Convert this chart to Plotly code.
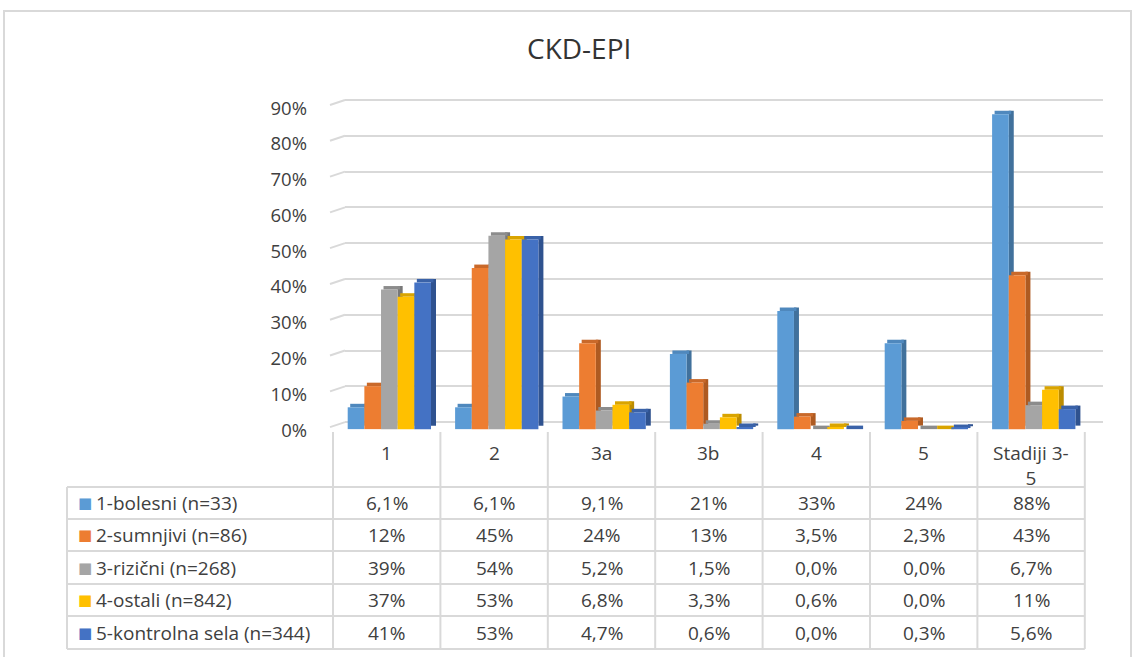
import plotly.graph_objects as go

# CKD-EPI stages per group, values in percent
categories = ["1", "2", "3a", "3b", "4", "5", "Stadiji 3-5"]
header_labels = ["1", "2", "3a", "3b", "4", "5", "Stadiji 3-<br>5"]

series_names = ["1-bolesni (n=33)", "2-sumnjivi (n=86)", "3-rizični (n=268)",
                "4-ostali (n=842)", "5-kontrolna sela (n=344)"]
bolesni = [6.1, 6.1, 9.1, 21, 33, 24, 88]
sumnjivi = [12, 45, 24, 13, 3.5, 2.3, 43]
rizicni = [39, 54, 5.2, 1.5, 0.0, 0.0, 6.7]
ostali = [37, 53, 6.8, 3.3, 0.6, 0.0, 11]
kontrolna = [41, 53, 4.7, 0.6, 0.0, 0.3, 5.6]

series_values = [bolesni, sumnjivi, rizicni, ostali, kontrolna]
colors = ["#5B9BD5", "#ED7D31", "#A5A5A5", "#FFC000", "#4472C4"]
side_colors = ["#41719C", "#AE5A21", "#787878", "#BC8C00", "#2F528F"]
top_colors = ["#4F88BD", "#C9692A", "#8C8C8C", "#D9A400", "#3A62A8"]

W, H = 1135, 657
font_family = "Open Sans"
text_color = "#404040"
grid_color = "#D9D9D9"

# pixel geometry (chart + table)
table_col0 = 333          # left edge of the first category column
cat_w = 107.4             # pixels per category
grid_left, grid_right = 345, 1103
px_per_unit = 3.579       # vertical pixels per 1 %
y_min, y_max = -2.2, 90.5
y_bottom_px = 430
y_top_px = y_bottom_px - (y_max - y_min) * px_per_unit
table_left = 67
header_top = 432
row_lines = [487, 519, 551, 584, 616, 649]

# 3D bar look, in pixels
bar_first_off = -39       # left edge of first bar relative to category centre
bar_w_px = 16.66
side_w_px = 5
top_h_px = 3.5
front_drop_px = 7


def px_x(v):
    return v / W


def px_y(v):
    return 1 - v / H


def fmt(v):
    s = f"{v:.1f}" if v < 10 else f"{v:.0f}"
    return s.replace(".", ",") + "%"


bw = bar_w_px / cat_w
sw = side_w_px / cat_w
th = top_h_px / px_per_unit
drop = front_drop_px / px_per_unit

traces = []
for i, (name, vals) in enumerate(zip(series_names, series_values)):
    off = bar_first_off / cat_w + i * bw
    # side face
    traces.append(go.Bar(x=categories, y=vals, base=-drop + th, offset=off + bw, width=sw,
                         marker=dict(color=side_colors[i], line=dict(width=0)),
                         showlegend=False, hoverinfo="skip"))
    # top face
    traces.append(go.Bar(x=categories, y=[th] * len(vals), base=[v - drop for v in vals],
                         offset=off + sw / 2, width=bw,
                         marker=dict(color=top_colors[i], line=dict(width=0)),
                         showlegend=False, hoverinfo="skip"))
    # front face
    traces.append(go.Bar(x=categories, y=vals, base=-drop, offset=off, width=bw, name=name,
                         marker=dict(color=colors[i], line=dict(width=0)),
                         showlegend=False))

fig = go.Figure(traces)

x_range = [-0.5 + (grid_left - table_col0) / cat_w,
           -0.5 + (grid_right - table_col0) / cat_w]

fig.update_layout(
    width=W, height=H,
    margin=dict(l=0, r=0, t=0, b=0, autoexpand=False),
    paper_bgcolor="white", plot_bgcolor="white",
    font=dict(family=font_family, size=18, color=text_color),
    barmode="overlay",
    xaxis=dict(type="category", domain=[px_x(grid_left), px_x(grid_right)],
               range=x_range, automargin=False,
               showticklabels=False, showgrid=False, zeroline=False, showline=False,
               ticks=""),
    yaxis=dict(domain=[px_y(y_bottom_px), px_y(y_top_px)],
               range=[y_min, y_max], tick0=0, dtick=10, ticksuffix="%", automargin=False,
               showgrid=True, gridcolor=grid_color, gridwidth=2,
               zeroline=True, zerolinecolor=grid_color, zerolinewidth=2,
               showline=False, ticks="", ticklabelstandoff=37, ticklabelshift=8,
               tickfont=dict(size=18.5, color=text_color)),
)

# slanted left ends of the gridlines (3D back wall look)
for v in range(0, 91, 10):
    yb = y_bottom_px - (v - y_min) * px_per_unit
    fig.add_shape(type="line", xref="paper", yref="paper",
                  x0=px_x(grid_left - 15), x1=px_x(grid_left), y0=px_y(yb + 5), y1=px_y(yb),
                  line=dict(color=grid_color, width=2))

# outer chart border
fig.add_shape(type="rect", xref="paper", yref="paper",
              x0=px_x(4), x1=px_x(1131), y0=px_y(670), y1=px_y(11),
              line=dict(color=grid_color, width=2))

# title
fig.add_annotation(xref="paper", yref="paper", x=px_x(579), y=px_y(48),
                   text="CKD-EPI", showarrow=False,
                   font=dict(size=28, color="#333333"), xanchor="center", yanchor="middle")

# data table lines
table_right = table_col0 + cat_w * len(categories)
for yl in row_lines:
    fig.add_shape(type="line", xref="paper", yref="paper",
                  x0=px_x(table_left), x1=px_x(table_right), y0=px_y(yl), y1=px_y(yl),
                  line=dict(color=grid_color, width=2))
fig.add_shape(type="line", xref="paper", yref="paper",
              x0=px_x(table_left), x1=px_x(table_left), y0=px_y(row_lines[0]), y1=px_y(row_lines[-1]),
              line=dict(color=grid_color, width=2))
for i in range(len(categories) + 1):
    xv = table_col0 + cat_w * i
    fig.add_shape(type="line", xref="paper", yref="paper",
                  x0=px_x(xv), x1=px_x(xv), y0=px_y(header_top), y1=px_y(row_lines[-1]),
                  line=dict(color=grid_color, width=2))

# header row (category labels) - category axis positions by index
for ci, lab in enumerate(header_labels):
    fig.add_annotation(xref="x", yref="paper", x=ci, y=px_y(438),
                       text=lab, showarrow=False, yanchor="top",
                       font=dict(size=19, color=text_color))

# data rows
for r, (name, vals, col) in enumerate(zip(series_names, series_values, colors)):
    yc = (row_lines[r] + row_lines[r + 1]) / 2
    fig.add_annotation(xref="paper", yref="paper", x=px_x(76), y=px_y(yc),
                       text="■", showarrow=False, xanchor="left", yanchor="middle",
                       font=dict(family="DejaVu Sans", size=15, color=col))
    fig.add_annotation(xref="paper", yref="paper", x=px_x(94), y=px_y(yc),
                       text=name, showarrow=False, xanchor="left", yanchor="middle",
                       font=dict(size=19, color=text_color))
    for ci, v in enumerate(vals):
        fig.add_annotation(xref="x", yref="paper", x=ci, y=px_y(yc),
                           text=fmt(v), showarrow=False, yanchor="middle",
                           font=dict(size=19, color=text_color))

# page body has a default 8px margin; remove it so the figure sits at the window origin
fig.write_html("out.html", config={"displayModeBar": False},
               post_script="document.body.style.margin='0';")
